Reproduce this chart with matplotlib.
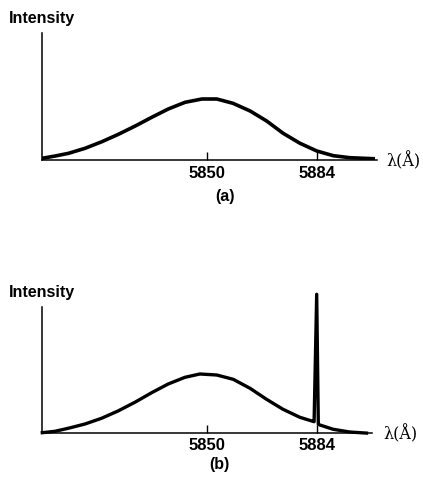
import matplotlib.pyplot as plt

# spectrum (a): broad band only
lam_a = [5799.1, 5803.2, 5807.3, 5812.4, 5817.6, 5822.7, 5827.9, 5833.0, 5838.1,
         5843.3, 5848.5, 5853.1, 5858.1, 5863.4, 5868.5, 5873.6, 5878.8, 5884.0,
         5889.1, 5894.2, 5901.4]
int_a = [1.2, 3.5, 6.2, 11.2, 17.8, 25.2, 33.5, 42.2, 50.5, 57.2, 60.5, 60.5,
         56.2, 48.5, 38.5, 26.2, 16.2, 8.5, 3.8, 1.8, 0.8]

# spectrum (b): broad band plus sharp line at 5884
lam_b = [5799.2, 5803.1, 5807.2, 5812.4, 5817.5, 5822.6, 5827.8, 5833.0, 5838.1,
         5843.3, 5847.9, 5853.1, 5858.2, 5863.4, 5868.5, 5873.6, 5878.8, 5882.5,
         5883.2, 5884.0, 5884.5, 5885.0, 5889.1, 5894.2, 5899.4]
int_b = [0.6, 2.0, 5.0, 9.3, 15.0, 22.3, 31.0, 40.6, 49.3, 56.0, 59.3, 58.3,
         54.0, 45.0, 34.0, 24.0, 16.0, 12.3, 11.6, 139.0, 9.0, 8.3, 4.0, 1.3, 0.2]

ticks = [5850, 5884]
tick_labels = ['5850', '5884']

W, H = 423, 478
fig = plt.figure(figsize=(W / 100, H / 100), dpi=100)

def px_axes(left, right, top, bottom):
    return fig.add_axes([left / W, 1 - bottom / H, (right - left) / W, (bottom - top) / H])

def style(ax, xlim, ytop, pad):
    ax.set_xlim(*xlim)
    ax.set_ylim(0, ytop)
    ax.spines['top'].set_visible(False)
    ax.spines['right'].set_visible(False)
    ax.spines['left'].set_linewidth(1.1)
    ax.spines['bottom'].set_linewidth(1.1)
    ax.set_yticks([])
    ax.set_xticks(ticks)
    ax.set_xticklabels(tick_labels, fontsize=12, fontweight='bold', family='Liberation Sans')
    ax.tick_params(axis='x', direction='in', length=6, width=1, pad=pad)
    ax.patch.set_alpha(0)

ax1 = px_axes(41.7, 376.7, 33.3, 159.5)
ax1.plot(lam_a, int_a, color='black', lw=2.6, solid_joinstyle='round')
style(ax1, (5799.0, 5902.5), 126.2, 4.5)

ax2 = px_axes(42.3, 371.7, 306.7, 433.3)
ax2.plot(lam_b, int_b, color='black', lw=2.4, solid_joinstyle='round', clip_on=False)
style(ax2, (5799.2, 5901.0), 126.6, 3.5)

def ftext(x, y, s, **kw):
    fig.text(x / W, 1 - y / H, s, **kw)

lab = dict(fontsize=11.5, fontweight='bold', family='Liberation Sans', va='center')
ftext(9, 19, 'Intensity', ha='left', **lab)
ftext(9, 292, 'Intensity', ha='left', **lab)
ftext(225, 197, '(a)', ha='center', **lab)
ftext(219, 465, '(b)', ha='center', **lab)

lam_lab = dict(fontsize=11.5, family='DejaVu Serif', va='center', ha='left')
ftext(386, 161, 'λ(Å)', **lam_lab)
ftext(383, 434, 'λ(Å)', **lam_lab)

fig.savefig('out.png', dpi=100)
